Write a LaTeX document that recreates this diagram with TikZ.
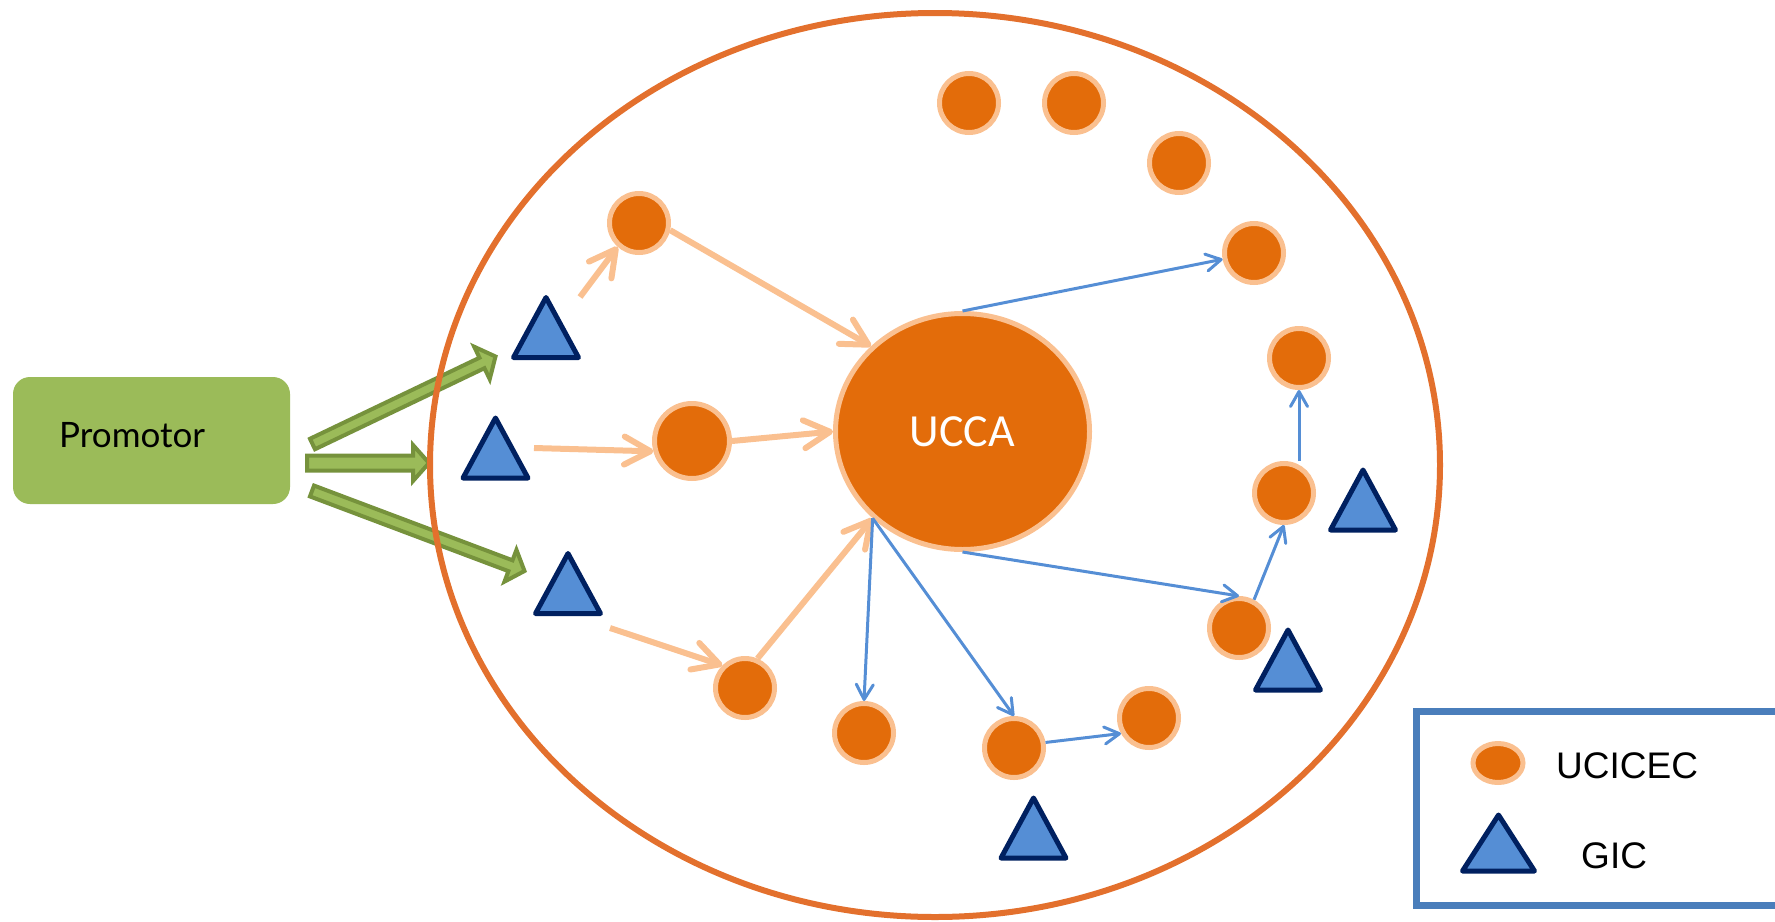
\documentclass[tikz,border=0pt]{standalone}
\usepackage{fontspec}
\usetikzlibrary{shapes.geometric,arrows.meta,calc}
\newfontfamily\latofont{Lato}
\newfontfamily\carlitofont{Carlito}
\newfontfamily\libsansfont{Liberation Sans}
\definecolor{ucorange}{RGB}{227,108,10}
\definecolor{uclight}{RGB}{250,192,144}
\definecolor{ringcol}{RGB}{227,112,45}
\definecolor{gicfill}{RGB}{85,142,213}
\definecolor{gicline}{RGB}{0,32,96}
\definecolor{promfill}{RGB}{155,187,89}
\definecolor{promline}{RGB}{118,146,60}
\definecolor{legline}{RGB}{74,126,187}
% tail, tip, shaft half width, head half width, head length
\newcommand\blockarrow[5]{%
  \path ($(#2)!#5!(#1)$) coordinate (ba-b);
  \draw[greenarrow] ($(#1)!#3!90:(#2)$) -- ($(ba-b)!#3!90:(#2)$) -- ($(ba-b)!#4!90:(#2)$) -- (#2)
     -- ($(ba-b)!#4!-90:(#2)$) -- ($(ba-b)!#3!-90:(#2)$) -- ($(#1)!#3!-90:(#2)$) -- cycle;}
\newcommand\gictri[3]{%
  \coordinate (#1) at (#2,#3);
  \draw[gicsty] ($(#1)+(-32.5,30)$) -- ($(#1)+(32.5,30)$) -- ($(#1)+(0,-30)$) -- cycle;}
\begin{document}
\begin{tikzpicture}[x=1pt,y=-1pt,
  ucicec/.style={circle,fill=ucorange,draw=uclight,line width=5pt,minimum size=59pt,inner sep=0pt},
  gicsty/.style={fill=gicfill,draw=gicline,line width=5pt,line join=round},
  oarrow/.style={draw=uclight,line width=6pt,-{Straight Barb[length=26pt,width=28pt,round]}},
  barrow/.style={draw=gicfill,line width=3pt,-{Straight Barb[length=15pt,width=17pt,round]}},
  greenarrow/.style={fill=promfill,draw=promline,line width=4pt,line join=miter}]
\useasboundingbox (0,0) rectangle (1775,921);
\clip (0,0) rectangle (1775,921);

% Promotor
\node[rounded corners=17pt,fill=promfill,minimum width=277pt,minimum height=127pt,inner sep=0pt] (prom) at (151.5,440.5) {};
\node[anchor=base west,font=\latofont\fontsize{35}{40}\selectfont,inner sep=0pt] (promt) at (59,447) {Promotor};

% green block arrows
\coordinate (g1t) at (312.5,444); \coordinate (g1p) at (495.5,356.5);
\coordinate (g2t) at (307,463);   \coordinate (g2p) at (429,463);
\coordinate (g3t) at (312,491);   \coordinate (g3p) at (524.5,571);
\blockarrow{g1t}{g1p}{5.8pt}{18pt}{15pt}
\blockarrow{g2t}{g2p}{7.5pt}{18pt}{16pt}
\blockarrow{g3t}{g3p}{5.8pt}{17pt}{15pt}

% outer ring
\draw[ringcol,line width=6pt] (935,465) ellipse [x radius=505pt,y radius=452pt];

% UCCA
\node[ellipse,fill=ucorange,draw=uclight,line width=5pt,minimum width=254pt,minimum height=236pt,inner sep=0pt,
      text=white,font=\carlitofont\fontsize{46}{46}\selectfont] (ucca) at (962.5,431.5) {UCCA};

% UCICEC circles
\node[ucicec] (c1) at (969,103) {};
\node[ucicec] (c2) at (1074,103) {};
\node[ucicec] (c3) at (1179,163) {};
\node[ucicec] (c4) at (1254,253) {};
\node[ucicec] (c5) at (1299,358) {};
\node[ucicec] (c6) at (1284,493) {};
\node[ucicec] (c7) at (1239,628) {};
\node[ucicec] (c8) at (864,733) {};
\node[ucicec] (c9) at (1014,748) {};
\node[ucicec] (c10) at (1149,718) {};
\node[ucicec] (c11) at (639,223) {};
\node[ucicec,minimum size=75pt] (c12) at (692,441) {};
\node[ucicec] (c13) at (745,688) {};

% GIC triangles
\gictri{t1}{546}{327.5}
\gictri{t2}{495.5}{448}
\gictri{t3}{568}{583.5}
\gictri{t4}{1363}{500}
\gictri{t5}{1288}{660}
\gictri{t6}{1033.5}{828}

% orange connectors
\coordinate (a1s) at (580,297);
\coordinate (a3s) at (534,448);
\coordinate (a4s) at (610,628);
\draw[oarrow] (a1s) -- (c11.228);
\draw[oarrow] (c11.-13) -- (ucca.137);
\draw[oarrow] (a3s) -- (c12.195);
\draw[oarrow] (c12.east) -- (ucca.west);
\draw[oarrow] (a4s) -- (c13.135);
\draw[oarrow] (c13.67) -- (ucca.224);

% blue connectors
\draw[barrow] (ucca.north) -- (c4);
\draw[barrow] (ucca.south) -- (c7.north);
\draw[barrow] (c7.62) -- (c6.south);
\draw[barrow] (c5.south |- c6.north) -- (c5.south);
\draw[barrow] (ucca.224) -- (c8.north);
\draw[barrow] (ucca.224) -- (c9.north);
\draw[barrow] (c9.10) -- (c10.209);

% legend
\draw[legline,line width=7pt] (1416,711) rectangle (1790,905);
\node[ellipse,fill=ucorange,draw=uclight,line width=5pt,minimum width=50pt,minimum height=39pt,inner sep=0pt] (legc) at (1498,763) {};
\coordinate (legt) at (1498.5,843);
\draw[gicsty] ($(legt)+(-36,28)$) -- ($(legt)+(36,28)$) -- ($(legt)+(0,-28)$) -- cycle;
\node[anchor=base west,font=\libsansfont\fontsize{37}{40}\selectfont,inner sep=0pt] (legct) at (1556,778) {UCICEC};
\node[anchor=base west,font=\libsansfont\fontsize{37}{40}\selectfont,inner sep=0pt] (legtt) at (1581,868) {GIC};
\end{tikzpicture}
\end{document}
